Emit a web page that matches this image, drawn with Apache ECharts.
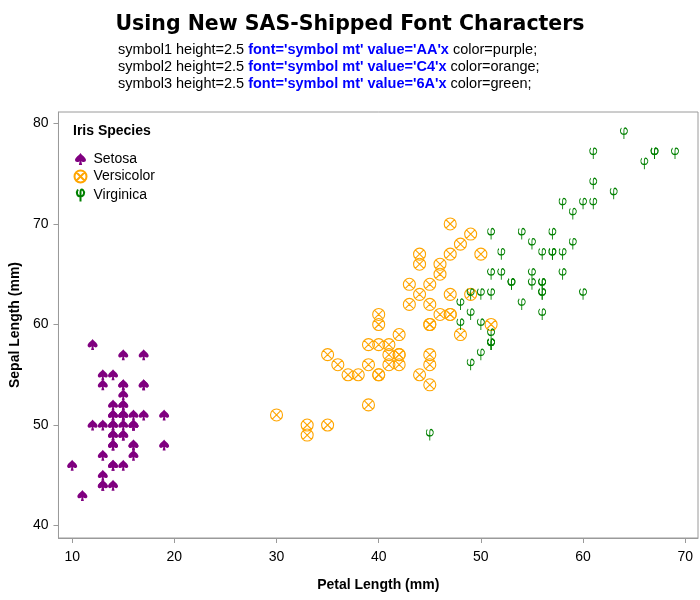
<!DOCTYPE html>
<html>
<head>
<meta charset="utf-8">
<script src="https://cdn.jsdelivr.net/npm/echarts@6/dist/echarts.min.js"></script>
<style>
  html, body { margin: 0; padding: 0; background: #fff; }
  #chart { width: 700px; height: 600px; }
</style>
</head>
<body>
<div id="chart"></div>
<script>
// Fisher's iris measurements, in millimetres
const speciesNames = ['Setosa', 'Versicolor', 'Virginica'];

const setosaPetal = [14,14,13,15,14,17,14,15,14,15,15,16,14,11,12,15,13,14,17,15,17,15,10,17,19,16,16,15,14,16,16,15,15,14,15,12,13,14,13,15,13,13,13,16,19,14,16,14,15,14];
const setosaSepal = [51,49,47,46,50,54,46,50,44,49,54,48,48,43,58,57,54,51,57,51,54,51,46,51,48,50,50,52,52,47,48,54,52,55,49,50,55,49,44,51,50,45,44,50,51,48,51,46,53,50];

const versicolorPetal = [47,45,49,40,46,45,47,33,46,39,35,42,40,47,36,44,45,41,45,39,48,40,49,47,43,44,48,50,45,35,38,37,39,51,45,45,47,44,41,40,44,46,40,33,42,42,42,43,30,41];
const versicolorSepal = [70,64,69,55,65,57,63,49,66,52,50,59,60,61,56,67,56,58,62,56,59,61,63,61,64,66,68,67,60,57,55,55,58,60,54,60,67,63,56,55,55,61,58,50,56,57,57,62,51,57];

const virginicaPetal = [60,51,59,56,58,66,45,63,58,61,51,53,55,50,51,53,55,67,69,50,57,49,67,49,57,60,48,49,56,58,61,64,56,51,56,61,56,55,48,54,56,51,51,59,57,52,50,52,54,51];
const virginicaSepal = [63,58,71,63,65,76,49,73,67,72,65,64,68,57,58,64,65,77,77,60,69,56,77,63,67,72,62,61,64,72,74,79,64,63,61,77,63,64,60,69,67,69,58,68,67,67,63,65,62,59];

const xTicks = [10, 20, 30, 40, 50, 60, 70];
const yTicks = [40, 50, 60, 70, 80];

const symbolLines = [
  ['symbol1 height=2.5 ', "font='symbol mt' value='AA'x", ' color=purple;'],
  ['symbol2 height=2.5 ', "font='symbol mt' value='C4'x", ' color=orange;'],
  ['symbol3 height=2.5 ', "font='symbol mt' value='6A'x", ' color=green;']
];

// Marker glyphs: spade, circled times, phi
const spadePath = 'path://M10,0 C8,4 0,8 0,13 C0,16.5 4,18 8.5,15 L7,22 L13,22 L11.5,15 C16,18 20,16.5 20,13 C20,8 12,4 10,0 Z';
const otimesPath = 'path://M0,10 A10,10 0 1,1 20,10 A10,10 0 1,1 0,10 Z M2.93,2.93 L17.07,17.07 M17.07,2.93 L2.93,17.07';
const phiPath = 'path://M3,3 C0,7 1,14 7,14 C13,14 14,7 11,4 C9,2 7,3 7,7 L7,22';

function pairs(xs, ys) {
  return xs.map((x, i) => [x, ys[i]]);
}

const FONT = '"Liberation Sans", Arial, sans-serif';
const TITLE_FONT = '"DejaVu Sans", Verdana, sans-serif';
const frameColor = '#9a9a9a';

const chart = echarts.init(document.getElementById('chart'), null, { renderer: 'canvas' });

const subtitleGraphics = symbolLines.map((parts, i) => ({
  type: 'text',
  left: 118,
  top: 42 + i * 17,
  style: {
    text: '{n|' + parts[0] + '}{b|' + parts[1] + '}{n|' + parts[2] + '}',
    rich: {
      n: { fontFamily: FONT, fontSize: 14.5, fill: '#000', color: '#000' },
      b: { fontFamily: FONT, fontSize: 14.5, fontWeight: 'bold', fill: '#0000ff', color: '#0000ff' }
    }
  }
}));

chart.setOption({
  animation: false,
  title: {
    text: 'Using New SAS-Shipped Font Characters',
    left: 'center',
    top: 9,
    textStyle: { fontFamily: TITLE_FONT, fontSize: 20.5, fontWeight: 'bold', color: '#000' }
  },
  graphic: subtitleGraphics.concat([{
    type: 'text',
    left: 73,
    top: 124,
    style: { text: 'Iris Species', font: 'bold 14px ' + FONT, fill: '#000' }
  }]),
  legend: {
    orient: 'vertical',
    left: 72,
    top: 152,
    padding: 0,
    itemWidth: 12,
    itemHeight: 12,
    itemGap: 2,
    selectedMode: false,
    textStyle: { fontFamily: FONT, fontSize: 14, color: '#000', padding: [0, 0, 0, 2] },
    data: speciesNames
  },
  grid: {
    left: 56, right: 2, top: 112, bottom: 62,
    show: true, borderColor: frameColor, borderWidth: 1, backgroundColor: '#fff'
  },
  xAxis: {
    type: 'value',
    min: 8.66, max: 71.25,
    name: 'Petal Length (mm)',
    nameLocation: 'middle',
    nameGap: 40,
    nameTextStyle: { fontFamily: FONT, fontSize: 14, fontWeight: 'bold', color: '#000' },
    axisLine: { show: true, lineStyle: { color: frameColor } },
    axisTick: { show: true, length: 5, inside: false, customValues: xTicks, lineStyle: { color: frameColor } },
    axisLabel: { customValues: xTicks, margin: 12, fontFamily: FONT, fontSize: 14, color: '#000' },
    splitLine: { show: false }
  },
  yAxis: {
    type: 'value',
    min: 38.76, max: 81.14,
    name: 'Sepal Length (mm)',
    nameLocation: 'middle',
    nameGap: 36,
    nameRotate: 90,
    nameTextStyle: { fontFamily: FONT, fontSize: 14, fontWeight: 'bold', color: '#000' },
    axisLine: { show: true, lineStyle: { color: frameColor } },
    axisTick: { show: true, length: 5, inside: false, customValues: yTicks, lineStyle: { color: frameColor } },
    axisLabel: { customValues: yTicks, margin: 10, fontFamily: FONT, fontSize: 14, color: '#000' },
    splitLine: { show: false }
  },
  series: [
    {
      name: speciesNames[0],
      type: 'scatter',
      symbol: spadePath,
      symbolSize: [10, 11],
      itemStyle: { color: '#800080', opacity: 1 },
      emphasis: { disabled: true },
      data: pairs(setosaPetal, setosaSepal)
    },
    {
      name: speciesNames[1],
      type: 'scatter',
      symbol: otimesPath,
      symbolSize: [12, 12],
      itemStyle: { color: 'none', borderColor: '#ffa500', borderWidth: 1.1, opacity: 1 },
      emphasis: { disabled: true },
      data: pairs(versicolorPetal, versicolorSepal)
    },
    {
      name: speciesNames[2],
      type: 'scatter',
      symbol: phiPath,
      symbolSize: [7, 11],
      itemStyle: { color: 'none', borderColor: '#008000', borderWidth: 1.1, opacity: 1 },
      emphasis: { disabled: true },
      data: pairs(virginicaPetal, virginicaSepal)
    }
  ]
});
</script>
</body>
</html>
